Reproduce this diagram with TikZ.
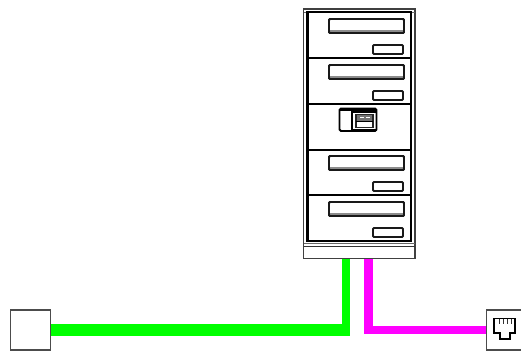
\documentclass[tikz,border=0pt]{standalone}
\definecolor{grn}{RGB}{0,255,0}
\definecolor{mag}{RGB}{255,0,255}
\tikzset{
  x=1pt,y=-1pt,
  frameline/.style={draw=black!75,line width=1.2pt,fill=white},
  heavy/.style={draw=black,line width=2.4pt},
  divider/.style={draw=black,line width=2pt},
  bar/.style={draw=black!90,line width=1.9pt,fill=white,rounded corners=1pt},
  bx/.style={rectangle,draw=black!70,line width=1.1pt,fill=white,inner sep=0pt,minimum width=40pt,minimum height=40pt,anchor=center},
  greenwire/.style={draw=grn,line width=8.3pt},
  greenrun/.style={draw=grn,line width=12pt},
  magwire/.style={draw=mag,line width=8.3pt},
}
\newcommand{\shelf}[1]{%
  \begin{scope}[shift={(0,#1)}]
    \draw[bar] (329,0) rectangle (404,14);
    \fill[black!45] (330,10.5) rectangle (403,13.2);
    \draw[bar,fill=none] (329,0) rectangle (404,14);
    \draw[bar] (373,26) rectangle (403,35);
  \end{scope}}
\begin{document}
\begin{tikzpicture}
\useasboundingbox (0,0) rectangle (521,351);
% rack
\draw[frameline] (303.5,9) rectangle (415,258.5);
\draw[draw=black!60,line width=1pt] (303.5,12) -- (415,12);
\draw[draw=black!60,line width=1pt] (303.5,243.5) -- (415,243.5);
\draw[draw=black!80,line width=1pt] (303.5,246.5) -- (415,246.5);
\draw[heavy] (307.5,12) rectangle (410.8,241);
\draw[divider] (307.5,57.5) -- (410.8,57.5);
\draw[divider] (307.5,103.5) -- (410.8,103.5);
\draw[divider] (307.5,149.5) -- (410.8,149.5);
\draw[divider] (307.5,195) -- (410.8,195);
\shelf{19}
\shelf{65}
\shelf{156}
\shelf{202}
% middle device
\draw[draw=black,line width=1.9pt,fill=white,rounded corners=1.5pt] (339.5,108.5) rectangle (376.5,131);
\fill[black] (352,108.5) rectangle (376.5,112.5);
\fill[black] (339.5,108.5) rectangle (352,110.5);
\fill[black] (352,128.5) rectangle (376.5,131);
\draw[draw=black,line width=1.5pt] (352,108.5) -- (352,131);
\draw[draw=black!85,line width=1.3pt] (356,114.5) rectangle (373,127.5);
\fill[black!55] (357,115) rectangle (372,120.5);
\fill[white] (360,116.5) rectangle (364,118);
\fill[white] (366,116.5) rectangle (370,118);
\draw[black,line width=1pt] (356,121) -- (373,121);
% end boxes
\node[bx] (wan) at (30.3,330) {};
\node[bx,minimum width=34.5pt] (lan) at (504,330) {};
% jack
\draw[draw=black,line width=1.1pt] (494,318.5) -- (515,318.5) -- (515,333) -- (510,333) -- (510,339) -- (500,339) -- (500,333) -- (494,333) -- cycle;
\foreach \px in {499,503,507,511}
  \draw[draw=black!80,line width=1pt] (\px,318.5) -- (\px,323.5);
% connectors
\coordinate (gout) at (346,258.5);
\coordinate (mout) at (368.5,258.5);
\coordinate (gturn) at (346,330);
\coordinate (mturn) at (368.5,330);
\draw[greenrun] (wan.east) -- (350,330);
\draw[greenwire] (gout) -- (gturn) -- +(0,6);
\draw[magwire] (mout) -- (mturn) -- (lan.west);
\draw[draw=black!75,line width=1.2pt] (303.5,258.5) -- (415,258.5);
\end{tikzpicture}
\end{document}
